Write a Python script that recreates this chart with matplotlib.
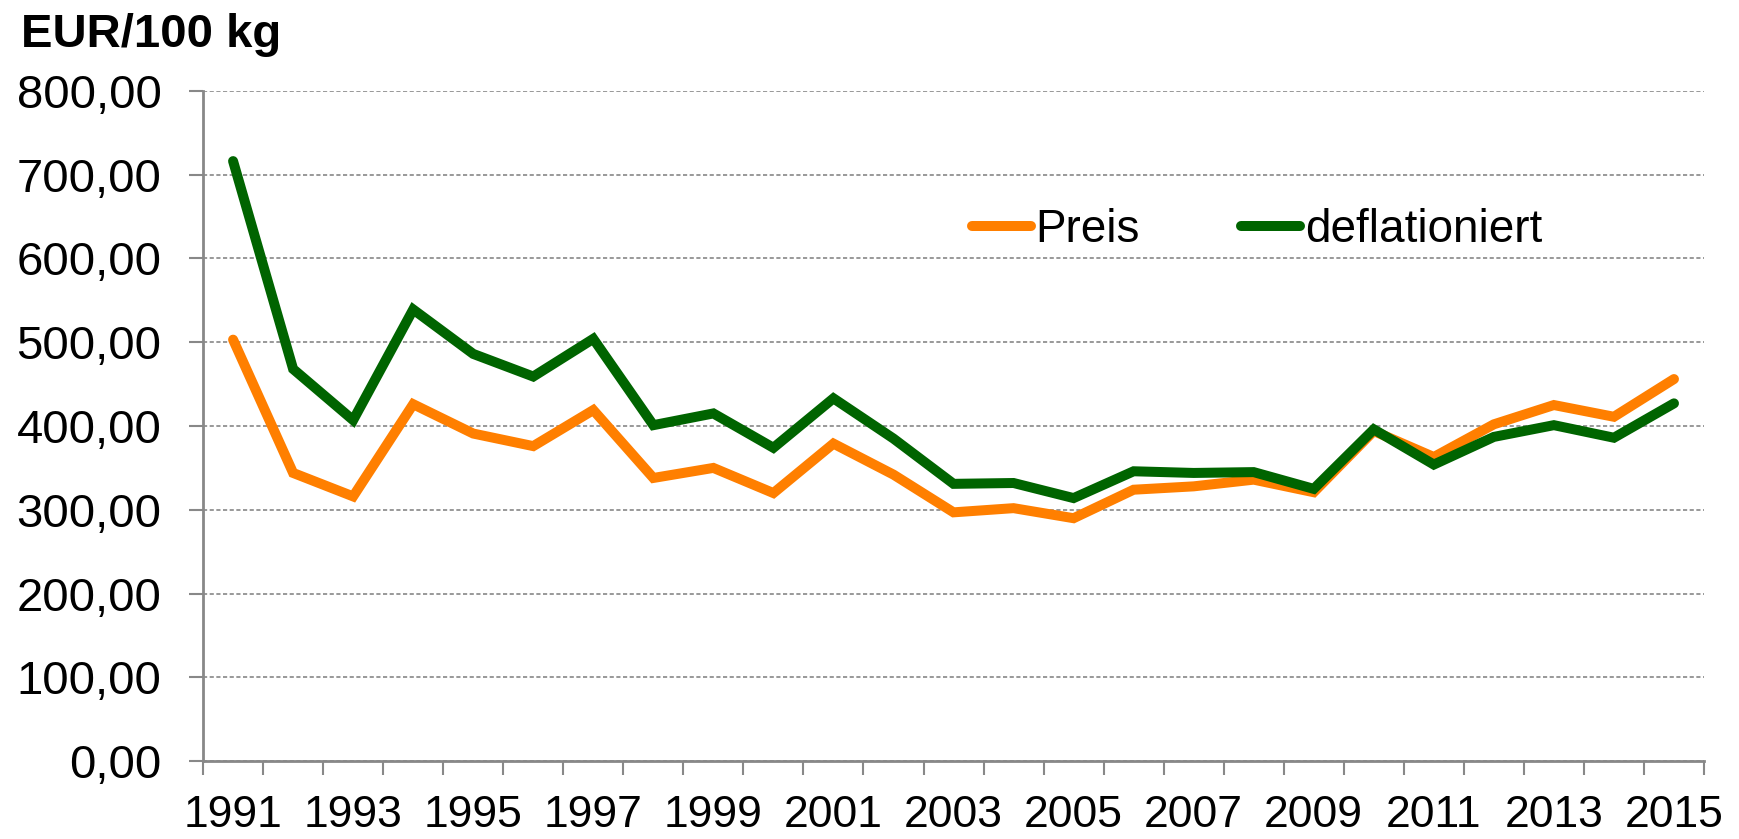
import matplotlib
matplotlib.use("Agg")
import matplotlib.pyplot as plt
from matplotlib.ticker import FuncFormatter, FixedLocator

plt.rcParams['font.family'] = ['Liberation Sans', 'DejaVu Sans']

# Daten (EUR/100 kg)
jahre = list(range(1991, 2016))
preis = [503, 344, 316, 426, 391, 376, 419, 338, 350, 320, 379, 342, 297, 302, 290,
         324, 328, 336, 321, 394, 363, 402, 425, 411, 456]
deflationiert = [716, 468, 407, 539, 486, 459, 504, 401, 415, 374, 433, 385, 331, 332, 314,
                 346, 344, 345, 325, 396, 354, 387, 401, 386, 427]
y_ticks = [0, 100, 200, 300, 400, 500, 600, 700, 800]

fig = plt.figure(figsize=(17.4, 8.39), dpi=100)
ax = fig.add_axes([0.1167, 0.0926, 0.8626, 0.7993])

x = list(range(len(jahre)))
ax.plot(x, preis, color='#FF7F00', lw=7.2, solid_capstyle='round', solid_joinstyle='miter',
        label='Preis', zorder=3)
ax.plot(x, deflationiert, color='#006400', lw=7.2, solid_capstyle='round', solid_joinstyle='miter',
        label='deflationiert', zorder=4)

ax.set_xlim(-0.5, len(jahre) - 0.5)
ax.set_ylim(0, 800)

# y-Achse
ax.set_yticks(y_ticks)
ax.yaxis.set_major_formatter(FuncFormatter(lambda v, p: f"{v:.2f}".replace('.', ',')))
ax.tick_params(axis='y', length=10, width=1.5, color='#888888', pad=20, labelsize=34)
ax.yaxis.grid(True, linestyle=(0, (2.5, 1.5)), color='#888888', lw=1.2)
ax.set_axisbelow(True)

# x-Achse: Beschriftung jedes zweite Jahr, Striche an Kategoriegrenzen
ax.set_xticks(x[::2])
ax.set_xticklabels([str(j) for j in jahre[::2]])
ax.xaxis.set_minor_locator(FixedLocator([i - 0.5 for i in range(len(jahre) + 1)]))
ax.tick_params(axis='x', which='major', length=0, pad=24, labelsize=32)
ax.tick_params(axis='x', which='minor', length=10, width=1.5, color='#888888')

for s in ['top', 'right']:
    ax.spines[s].set_visible(False)
for s in ['left', 'bottom']:
    ax.spines[s].set_color('#888888')
    ax.spines[s].set_linewidth(2)

ax.legend(ncol=2, frameon=False, fontsize=33, handlelength=1.3, handletextpad=0.1,
          columnspacing=2.2, loc='center left', bbox_to_anchor=(0.512, 0.792),
          borderaxespad=0, borderpad=0)

fig.text(0.012, 0.944, 'EUR/100 kg', fontsize=34, fontweight='bold', va='baseline', ha='left')

fig.savefig('out.png', dpi=100)
